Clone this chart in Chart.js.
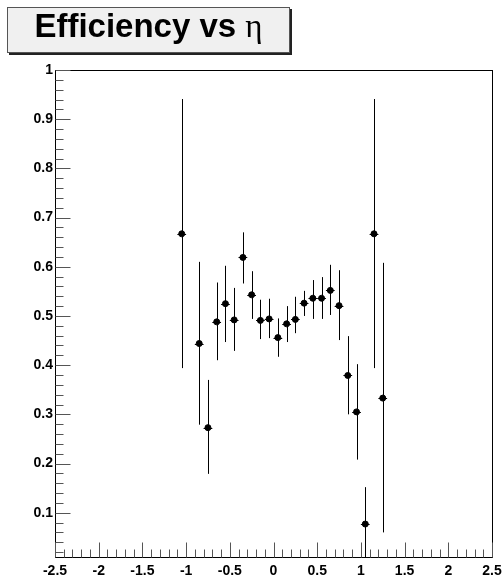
<!DOCTYPE html>
<html>
<head>
<meta charset="utf-8">
<script src="https://cdn.jsdelivr.net/npm/chart.js@4.4.0/dist/chart.umd.min.js"></script>
<style>
  body { margin: 0; background: #fff; }
  #wrap { position: relative; width: 502px; height: 575px; }
  #title {
    position: absolute; left: 7px; top: 7px; width: 281px; height: 44px;
    background: #f0f0f0; border: 1px solid #555; box-shadow: 2px 2px 0 #222;
    text-align: center; font: bold 33px "Liberation Sans", Arial, sans-serif;
    line-height: 36px; color: #000;
  }
  #title .eta { font-family: "Liberation Serif", "DejaVu Serif", serif; font-weight: normal; }
</style>
</head>
<body>
<div id="wrap">
  <canvas id="myChart" width="502" height="575"></canvas>
  <div id="title">Efficiency vs <span class="eta">η</span></div>
</div>
<script>
// bin centres in eta
const eta = [-1.05, -0.85, -0.75, -0.65, -0.55, -0.45, -0.35, -0.25, -0.15, -0.05,
             0.05, 0.15, 0.25, 0.35, 0.45, 0.55, 0.65, 0.75, 0.85, 0.95, 1.05, 1.15, 1.25];
// efficiency per bin
const eff = [0.667, 0.444, 0.273, 0.488, 0.525, 0.492, 0.619, 0.543, 0.491, 0.494,
             0.456, 0.484, 0.493, 0.526, 0.536, 0.536, 0.552, 0.521, 0.379, 0.305, 0.077, 0.667, 0.333];
// upper / lower errors
const errUp = [0.274, 0.166, 0.097, 0.080, 0.077, 0.065, 0.051, 0.048, 0.042, 0.041,
               0.039, 0.036, 0.046, 0.025, 0.037, 0.043, 0.052, 0.072, 0.080, 0.097, 0.075, 0.274, 0.275];
const errLo = [0.273, 0.165, 0.094, 0.078, 0.078, 0.063, 0.053, 0.049, 0.038, 0.039,
               0.039, 0.037, 0.028, 0.026, 0.042, 0.042, 0.050, 0.070, 0.079, 0.097, 0.077, 0.273, 0.273];
const binHalf = 0.05;
const xTickLabels = [-2.5, -2, -1.5, -1, -0.5, 0, 0.5, 1, 1.5, 2, 2.5];
const yTickLabels = [0.1, 0.2, 0.3, 0.4, 0.5, 0.6, 0.7, 0.8, 0.9, 1];

const tickFont = { family: '"Liberation Sans", Arial, sans-serif', size: 14, weight: 'bold' };

const errorBars = {
  id: 'errorBars',
  beforeDatasetsDraw(chart) {
    const { ctx, chartArea: a, scales: { x, y } } = chart;
    ctx.save();
    ctx.beginPath();
    ctx.rect(a.left, a.top, a.right - a.left, a.bottom - a.top);
    ctx.clip();
    ctx.strokeStyle = '#000';
    ctx.lineWidth = 1;
    ctx.beginPath();
    for (let i = 0; i < eta.length; i++) {
      const px = Math.round(x.getPixelForValue(eta[i])) + 0.5;
      const py = Math.round(y.getPixelForValue(eff[i])) + 0.5;
      ctx.moveTo(px, y.getPixelForValue(eff[i] + errUp[i]));
      ctx.lineTo(px, y.getPixelForValue(eff[i] - errLo[i]));
      ctx.moveTo(x.getPixelForValue(eta[i] - binHalf), py);
      ctx.lineTo(x.getPixelForValue(eta[i] + binHalf), py);
    }
    ctx.stroke();
    ctx.restore();
  }
};

const frameTicks = {
  id: 'frameTicks',
  afterDraw(chart) {
    const { ctx, chartArea: a, scales: { x, y } } = chart;
    ctx.save();
    ctx.strokeStyle = '#000';
    ctx.lineWidth = 1;
    ctx.strokeRect(Math.round(a.left) + 0.5, Math.round(a.top) + 0.5,
                   Math.round(a.right - a.left), Math.round(a.bottom - a.top));
    ctx.strokeStyle = '#555';
    ctx.beginPath();
    const bottom = Math.round(a.bottom) + 0.5;
    for (let k = -25; k <= 25; k++) {
      const px = Math.round(x.getPixelForValue(k / 10)) + 0.5;
      const len = (k % 5 === 0) ? 15 : 8;
      ctx.moveTo(px, bottom);
      ctx.lineTo(px, bottom - len);
    }
    const left = Math.round(a.left) + 0.5;
    for (let k = 1; k <= 50; k++) {
      const v = k / 50;
      if (v < y.min) continue;
      const py = Math.round(y.getPixelForValue(v)) + 0.5;
      const len = (k % 5 === 0) ? 15 : 8;
      ctx.moveTo(left, py);
      ctx.lineTo(left + len, py);
    }
    ctx.stroke();
    ctx.restore();
  }
};

const ctx = document.getElementById('myChart').getContext('2d');
const myChart = new Chart(ctx, {
  type: 'scatter',
  data: {
    datasets: [{
      label: 'Efficiency',
      data: eta.map((v, i) => ({ x: v, y: eff[i] })),
      backgroundColor: '#000',
      borderColor: '#000',
      pointRadius: 3,
      pointHoverRadius: 3,
      showLine: false
    }]
  },
  options: {
    responsive: false,
    animation: false,
    layout: { padding: { top: 70, right: 0, left: 0, bottom: 0 } },
    plugins: { legend: { display: false }, tooltip: { enabled: false } },
    scales: {
      x: {
        type: 'linear', min: -2.5, max: 2.5,
        grid: { display: false, drawTicks: false },
        border: { display: false },
        afterBuildTicks: s => { s.ticks = xTickLabels.map(v => ({ value: v })); },
        afterFit: s => { s.height = 18; s.paddingRight = 10; s.paddingLeft = 0; },
        ticks: {
          autoSkip: false, maxRotation: 0, padding: 6, color: '#000', font: tickFont,
          callback: v => String(Math.round(v * 10) / 10)
        }
      },
      y: {
        type: 'linear', min: 0.01, max: 1,
        grid: { display: false, drawTicks: false },
        border: { display: false },
        afterBuildTicks: s => { s.ticks = yTickLabels.map(v => ({ value: v })); },
        afterFit: s => { s.width = 55; s.paddingTop = 0; s.paddingBottom = 0; },
        ticks: {
          autoSkip: false, padding: 2, color: '#000', font: tickFont,
          callback: v => String(Math.round(v * 10) / 10)
        }
      }
    }
  },
  plugins: [errorBars, frameTicks]
});
</script>
</body>
</html>
